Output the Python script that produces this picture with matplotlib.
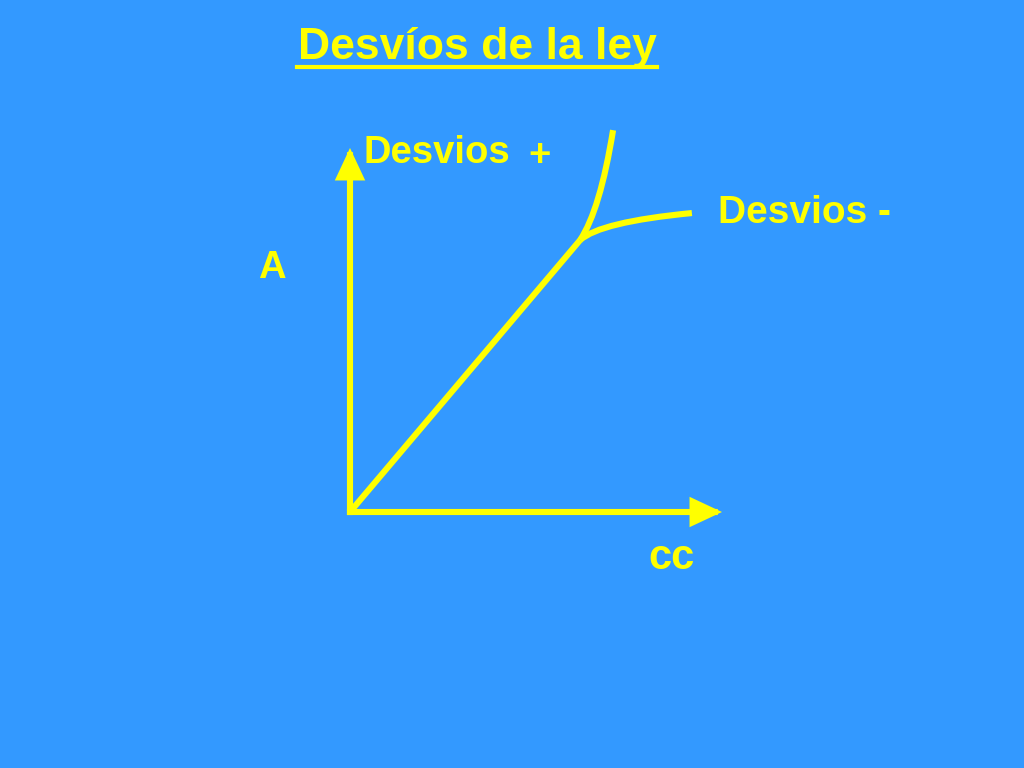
import numpy as np
import matplotlib
matplotlib.use("Agg")
import matplotlib.pyplot as plt
from matplotlib.path import Path
from matplotlib.patches import PathPatch

BG = "#3399FF"
YEL = "#FFFF00"
PX = 37.0  # pixels per data unit

# linear part of the calibration line (cc vs A)
lin_cc = [0.0, 6.22]
lin_a = [0.0, 7.35]

# positive deviation branch: start, control, end (quadratic curve)
pos_cc = [6.22, 6.76, 7.11]
pos_a = [7.35, 8.16, 10.32]

# negative deviation branch: start, control, end
neg_cc = [6.22, 6.76, 9.24]
neg_a = [7.35, 7.84, 8.08]

LW = 4.4

fig = plt.figure(figsize=(10.24, 7.68), dpi=100, facecolor=BG)
ax = fig.add_axes([0, 0, 1, 1])
ax.set_facecolor(BG)
ax.set_xlim(-350 / PX, (1024 - 350) / PX)
ax.set_ylim(-(768 - 512) / PX, 512 / PX)
ax.axis("off")

# axes with arrows
arrow = dict(arrowstyle="-|>,head_length=1.6,head_width=0.75",
             color=YEL, lw=LW, shrinkA=0, shrinkB=0, joinstyle="miter",
             capstyle="projecting")
ax.annotate("", xy=(372 / PX, 0), xytext=(0, 0), arrowprops=arrow)
ax.annotate("", xy=(0, 364 / PX), xytext=(0, 0), arrowprops=arrow)

ax.plot(lin_cc, lin_a, color=YEL, lw=LW, solid_capstyle="butt")
codes = [Path.MOVETO, Path.CURVE3, Path.CURVE3]
for xs, ys in [(pos_cc, pos_a), (neg_cc, neg_a)]:
    p = Path(np.column_stack([xs, ys]), codes)
    ax.add_patch(PathPatch(p, fill=False, edgecolor=YEL, lw=LW, capstyle="butt"))

font = "Liberation Sans"
fig.text(477 / 1024, 1 - 47 / 768, "Desvíos de la ley", color=YEL, fontsize=32,
         fontweight="bold", family=font, ha="center", va="center")
fig.add_artist(plt.Line2D([297 / 1024, 657 / 1024], [1 - 67 / 768, 1 - 67 / 768],
                          color=YEL, lw=3))
fig.text(363 / 1024, 1 - 153 / 768, "Desvios", color=YEL, fontsize=27.5,
         fontweight="bold", family=font, ha="left", va="center")
fig.text(539 / 1024, 1 - 156 / 768, "+", color=YEL, fontsize=27.5,
         fontweight="bold", family=font, ha="center", va="center")
fig.text(718 / 1024, 1 - 213 / 768, "Desvios -", color=YEL, fontsize=28,
         fontweight="bold", family=font, ha="left", va="center")
fig.text(272 / 1024, 1 - 268 / 768, "A", color=YEL, fontsize=27.5,
         fontweight="bold", family=font, ha="center", va="center")
fig.text(671 / 1024, 1 - 558 / 768, "cc", color=YEL, fontsize=30,
         fontweight="bold", family=font, ha="center", va="center")

fig.savefig("out.png", dpi=100, facecolor=BG)
